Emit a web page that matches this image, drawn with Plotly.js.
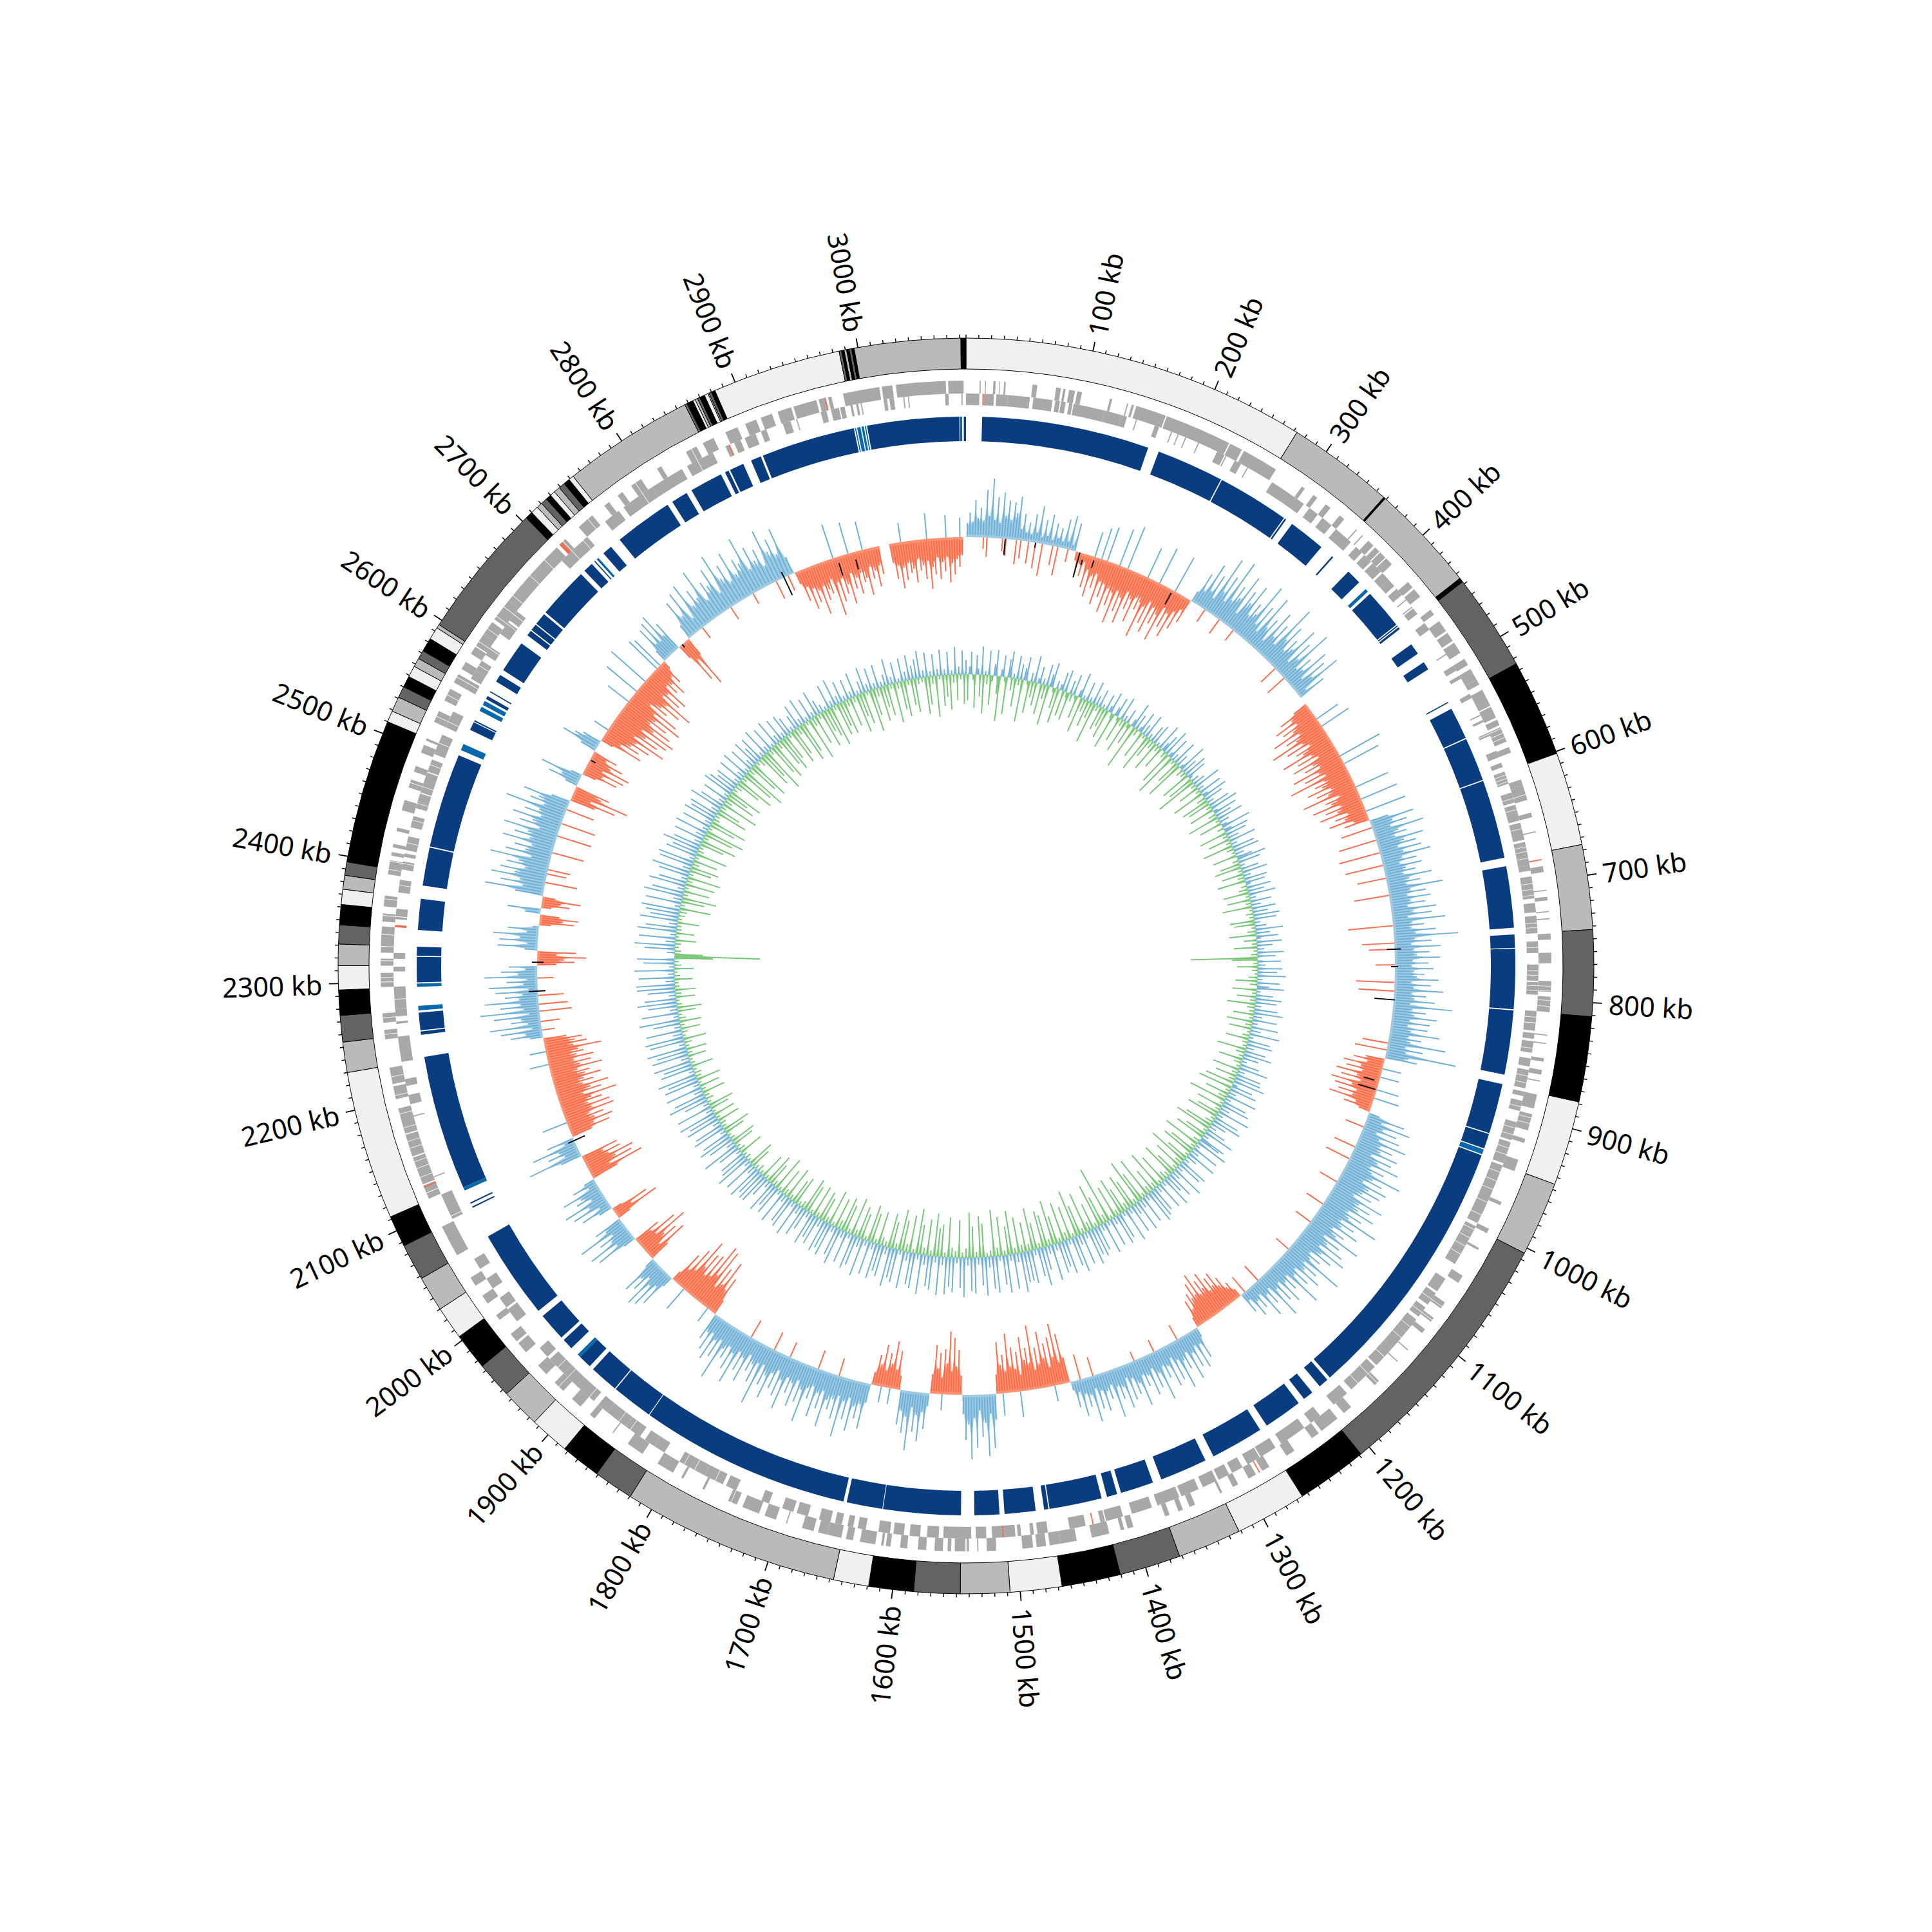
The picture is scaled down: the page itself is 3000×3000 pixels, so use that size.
<!DOCTYPE html>
<html><head><meta charset="utf-8"><script src="https://cdn.plot.ly/plotly-3.0.1.min.js"></script>
<style>html,body{margin:0;padding:0;background:#fff}</style></head><body><div id="chart" style="width:3000px;height:3000px"></div>
<script>
const genomeKb = 3085;
const tickLabelKb = [100,200,300,400,500,600,700,800,900,1000,1100,1200,1300,1400,1500,1600,1700,1800,1900,2000,2100,2200,2300,2400,2500,2600,2700,2800,2900,3000];
// outer band ring: band start positions (kb) and grey class
const bandStart = [0,272.6,357.5,359,444.5,448,524.6,601.6,675.6,742.7,811,878.5,945.6,1004.5,1208.5,1265,1321.6,1372,1420.6,1467,1508,1547,1583.6,1619,1647,1819.6,1851.3,1883,1914.6,1945.6,1974.5,2003.7,2030,2058,2087,2112,2230,2254,2275,2295,2314,2331,2346,2362,2374,2385,2395.6,2510,2519,2531,2540,2549,2558,2565,2572,2583,2593,2596,2704,2710,2716,2720.5,2725.6,2730,2734,2739,2744,2749,2753,2857,2859,2864,2866,2868,2870,2874,2877,2878,2880,2883,2985,2987,2989,2991,2993,2995,2997,3081];
const bandGrey = [0,1,3,1,3,2,3,0,1,2,3,0,1,2,3,0,1,2,3,0,1,2,3,0,1,2,3,0,1,2,3,0,1,2,3,0,1,2,3,0,1,2,3,0,1,2,3,0,1,2,3,0,1,2,3,0,1,2,3,0,1,2,3,0,1,2,3,0,1,2,3,0,1,2,3,0,1,2,3,0,2,3,1,3,2,3,1,3];
const greyColors = ['#f0f0f0','#bababa','#636363','#000000'];
// gene blocks, kb
const plusGenes = [[11.5,12.5],[16,16.8],[23,25],[28,28.7],[32,33.5],[56,60],[76,80],[82,84],[87,92],[94,98],[122,124],[137,138],[141,143],[145,171],[172,229],[230,241],[243,274],[300,303],[312,316],[325,330],[340,345],[358,359],[365,366],[372,378],[380,385],[386,392],[393,400],[420,426],[428,436],[450,455],[462,472],[474,482],[484,494],[500,506],[510,520],[520,525],[530,545],[546,556],[558,563],[565,578],[583,588],[612,618],[618,630],[641,645],[657,658],[687,692],[707,708],[713,716],[725,726],[731,732],[744,749],[760,769],[784,793],[797,810],[829,830],[836,837],[849,852],[859,863],[868,869],[880,892],[897,911],[918,922],[937,947],[975,978],[1000,1004],[1018,1020],[1045,1052],[1072,1078],[1088,1092],[1100,1104],[1122,1123],[1135,1136],[1158,1163],[1190,1198],[1205,1222],[1225,1232],[1250,1258],[1275,1282],[1288,1295],[1305,1310],[1320,1322],[1345,1350],[1356,1360],[1368,1372],[1400,1405],[1408,1411],[1421,1436],[1449,1463],[1463,1472],[1475,1483],[1486,1495],[1517,1525],[1532,1533],[1540,1542],[1543,1552],[1555,1558],[1562,1569],[1576,1583],[1592,1598],[1606,1610],[1612,1614],[1619,1632],[1638,1644],[1648,1660],[1660,1668],[1672,1682],[1695,1696],[1705,1715],[1720,1735],[1740,1748],[1770,1772],[1790,1792],[1800,1815],[1830,1845],[1860,1861],[1880,1885],[1895,1905],[1915,1925],[1935,1945],[1960,1970],[1972,1980],[1995,2000],[2012,2020],[2030,2038],[2060,2087],[2113,2125],[2126,2150],[2151,2170],[2171,2193],[2201,2212],[2214,2228],[2252,2260],[2266,2274],[2296,2308],[2314,2320],[2325,2347],[2351,2358],[2364,2373],[2391,2403],[2407,2410],[2414,2417],[2428,2431],[2446,2455],[2466,2473],[2480,2485],[2497,2504],[2508,2510],[2525,2535],[2545,2556],[2562,2570],[2575,2582],[2590,2597],[2598,2610],[2610,2622],[2625,2645],[2645,2705],[2708,2715],[2730,2745],[2758,2763],[2772,2777],[2786,2796],[2812,2816],[2840,2850],[2856,2866],[2877,2888],[2895,2905],[2909,2919],[2924,2936],[2938,2958],[2960,2966],[2968,2971],[2981,3012],[3014,3023],[3026,3068],[3070,3083]];
const minusGenes = [[0,11.5],[15,24],[26,36],[36,55],[58,74.5],[77,81],[82,86],[89,92],[93,120],[120,135],[135,140],[148,149],[165,169],[180,181],[186,187],[193,194],[205,206],[223,230],[231,232],[240,246],[252,253],[277,310],[316,325],[330,340],[345,362],[368,375],[378,386],[388,398],[400,408],[408,415],[418,425],[430,431],[438,439],[440,446],[456,463],[488,489],[500,505],[510,513],[528,532],[548,549],[553,555],[565,568],[582,588],[593,597],[601,612],[620,629],[631,645],[647,662],[664,684],[684,689],[694,713],[717,725],[728,743],[750,760],[770,784],[785,796],[810,827],[829,834],[836,846],[851,858],[861,877],[880,884],[888,897],[907,923],[925,944],[946,1000],[1003,1010],[1010,1040],[1055,1068],[1070,1082],[1085,1095],[1098,1112],[1112,1130],[1130,1150],[1152,1180],[1185,1200],[1215,1225],[1232,1256],[1262,1277],[1278,1290],[1295,1305],[1308,1318],[1320,1333],[1337,1353],[1355,1375],[1380,1398],[1406,1421],[1422,1426],[1439,1453],[1472,1481],[1484,1487],[1495,1498],[1500,1520],[1525,1534],[1538,1562],[1566,1576],[1582,1591],[1596,1605],[1608,1618],[1629,1636],[1640,1645],[1650,1656],[1660,1670],[1680,1690],[1693,1703],[1715,1722],[1745,1755],[1758,1775],[1775,1800],[1815,1825],[1825,1835],[1840,1855],[1855,1875],[1875,1885],[1890,1910],[1910,1925],[1925,1942],[1945,1955],[1985,1998],[2000,2010],[2020,2030],[2040,2050],[2089,2091.5],[2092,2112],[2128,2129],[2183,2184],[2194,2202],[2210,2216],[2231,2253],[2264,2266],[2270,2277],[2277,2296],[2309,2313],[2320,2325],[2354,2363],[2377,2388],[2397,2404],[2408,2411],[2414,2426],[2434,2444],[2451,2457],[2457,2464],[2465,2473],[2472,2483],[2484,2495],[2500,2518],[2525,2540],[2562,2570],[2572,2580],[2580,2590],[2596,2604],[2618,2630],[2632,2642],[2700,2730],[2750,2765],[2770,2800],[2800,2830],[2835,2860],[2872,2876],[2880,2886],[2890,2900],[2905,2910],[2925,2932],[2937,2938],[2959,2964],[2968,2975],[2976,2980],[2985,2987],[2990,2992],[2994,2995],[3014,3017],[3019,3023],[3031,3032],[3035,3036],[3067,3070],[3081,3082]];
const rnaMinus = [[14.2,15],[1432,1433],[1510,1511],[2347,2349],[2875,2876]];
const rnaPlus = [[681,682],[1284,1285],[2708,2711],[2965,2966],[2123,2124]];
// thin white separators inside dense gene runs
const geneGapKb = [566,570,574,604,607,610,625,635,652,668,672,678,700,705,710,734,738,755,775,779,788,792,800,805,815,820,842,866,872,893,900,905,912,918,930,936,952,960,968,980,992,1006,1014,1022,1030,1076,1090,1106,1118,1140,1160,1172,1745,1765,1785,1795,1850,1862,1895,1920,1932,2118,2132,2140,2146,2158,2164,2176,2188,2204,2220,2256,2270,2285,2300,2304,2318,2330,2340,2356,2370,2383,2395,2402,2420,2440,2455,2470,2490,2510,2530,2550,2567,2585,2602,2615,2628,2638,2650,2672,2690,2712,2725,2740,2790,2845];
// coding-density ring, kb
const denseBlocks = [[14.5,166],[176,237],[238,303],[304,305.5],[312,345.5],[358,359.5],[378,391.6],[405.7,442],[443,444],[445,447],[464,474.3],[483.6,491],[525,526],[532,561],[562,601.5],[602.5,673.7],[681.5,737],[743,755],[755.7,810],[811,869],[877.7,923],[924,937.5],[944,1187],[1190,1199],[1207.6,1217],[1223,1258],[1265,1313],[1321,1364],[1372,1402],[1405.6,1415],[1420,1467.5],[1468.5,1472.4],[1480,1508],[1512.5,1535],[1547,1617],[1617.6,1650],[1653,1844],[1844.7,1882],[1883,1909],[1913,1925],[1936,1946],[1949,1974.6],[1980.5,2061],[2090,2091.2],[2094,2095.2],[2110,2232],[2252,2255],[2256,2272],[2299,2322],[2323,2331],[2346,2374],[2386,2420.5],[2421.5,2507],[2532,2539.5],[2540.3,2541.5],[2563,2566],[2570,2571],[2581,2588],[2593,2622],[2631,2636],[2637,2643],[2644,2655],[2657,2703.7],[2708,2717],[2720,2721],[2731,2740],[2750,2803],[2808,2823],[2828,2858],[2862,2865.5],[2867,2880],[2887.6,2897],[2899,2984],[2996,3079],[3083,3085]];
const midBlocks = [[400,403],[938.5,943],[1925,1928],[2107,2110],[2274,2278],[2295,2298],[2512,2518],[2551,2555],[2557,2561],[2723,2725],[2985,2986],[2987,2990],[2991,2993],[2994,2995],[3079.5,3081.5]];
// GC skew: regions and their heights from the baseline
const skewFrom = [0,127,271,448,601,878,942,1201,1263,1422,1508,1547,1584,1618,1652,1849,1913,1945,1975,2005,2019,2059,2088,2112,2231,2314,2331,2360,2373,2380,2394,2508,2526,2541,2571,2585,2702,2725,2740,2883,2996];
const skewTo = [127,271,440,601,878,942,1201,1263,1422,1508,1547,1584,1618,1652,1849,1913,1945,1975,2005,2019,2059,2088,2112,2231,2314,2331,2360,2373,2380,2394,2508,2526,2541,2571,2585,2702,2725,2740,2883,2985,3082];
const skewSign = [1,-1,1,-1,1,-1,1,-1,1,-1,1,-1,1,-1,1,-1,1,-1,1,-1,1,-1,1,-1,1,-1,1,-1,1,-1,1,-1,1,-1,1,-1,1,-1,1,-1,-1];
const skewHeights = [
[22,38,24,58,30,46,26,74,34,92,28,64,24,72,36,60,30,58,42,68,18,42,14,30,12,44,16,58,10,38,14,48,9,36,14,30,10,46,12,54,8,44],
[14,28,18,36,12,52,22,64,30,48,24,72,34,58,36,80,40,66,44,92,38,70,46,86,34,60,42,78,36,54,40,96,44,70,32,82,38,64,46,88,30,62,36,74,28,56,20,40],
[18,52,24,74,30,60,22,96,40,70,28,102,36,64,46,88,24,68,50,84,34,58,42,98,30,66,22,90,38,56,18,76,34,60,26,100,44,72,30,54,40,82,22,64,36,92,24,50,30,72,20,62,34,80,14,46],
[24,52,34,66,30,58,42,80,36,62,46,92,40,70,32,58,48,86,38,64,30,76,44,60,36,84,42,68,34,96,40,58,48,74,36,62,44,88,30,54,46,78,34,60,42,72,28,50,36,62,24,40],
[30,70,34,56,28,80,38,50,30,74,42,60,30,66,36,78,32,54,26,60,34,48,28,72,36,52,30,86,34,58,28,64,32,54,26,70,34,62,24,82,30,48,28,66,34,100,32,58,26,72,30,54,34,70,28,52,26,60,30,46,34,68,26,56,30,76,28,50,32,64,26,92,30,52,34,70,28,60,26,58,32,78,30,50,34,90,28,56,30,110,36,50],
[30,48,26,62,34,56,30,70,36,60,28,74,40,66,30,58,34,70,26,44,18],
[18,60,24,72,30,54,22,62,30,76,36,58,40,70,28,64,44,80,36,60,42,92,48,66,36,78,50,72,44,62,34,86,48,70,52,82,40,66,46,98,38,64,44,76,34,58,46,90,30,62,42,74,34,84,44,66,30,52,36,96,32,60,40,72,28,58,34,86,26,50,32,66,24,56,30,78,20,46,26,62,18,40,24,48,14,34],
[14,30,24,46,34,60,40,56,36,70,46,62,40,78,44,66,42,52,28,44,16],
[16,50,24,62,22,56,30,72,24,50,34,78,28,60,20,66,30,48,26,80,34,56,22,64,30,46,26,74,36,52,24,58,20,68,32,50,28,76,22,44,30,60,26,54,20,72,28,46,24,58,18,42,14],
[40,78,34,96,44,76,30,68,46,88,38,64,30,100,42,66,48,84,26,62,36,70,40,92,34,60,44,80,30],
[40,84,30,96,44,66,24,82,36,100,46,70,30],
[30,70,44,88,36,98,48,70,26,64,40,76,30],
[20,56,30,76,36,62,24,92,40,66,32,54],
[22,60,30,74,38,54,26,66,34,48,20],
[30,72,34,58,40,80,28,64,36,94,30,68,38,56,42,86,30,60,36,76,28,50,34,90,40,62,28,72,36,54,30,84,38,66,26,58,34,78,42,60,28,96,30,64,36,50,24,72,34,58,28,84,36,66,30,52,38,92,28,60,34,70,26,58,30,44],
[24,62,40,86,44,70,34,96,50,100,42,78,38,74,48,92,34,70,28,54,16],
[18,58,26,68,32,74,24,52,34,62,16],
[34,70,24,60,40,84,30,70,28,44],
[20,66,28,74,32,50,24,80,30,46],
[22,74,30,60,16],
[22,50,16,60,30,70,20,44,34,62,14,40,18],
[44,88,34,74,48,80,40,62,34,60],
[34,86,24,50,30,72,16,44],
[34,64,40,72,44,60,38,80,46,76,42,66,50,92,40,70,54,84,44,62,48,76,52,60,42,82,48,66,40,72,46,58,50,88,44,66,48,60,36],
[20,50,26,64,14,80,20,46,30,72,16,92,24,60,28,84,30,52,24,66,14,76,22,48,16,82,30,56,18,44],
[30,58,42,76,30,60],
[20,62,16,60,28,70,18,48,10],
[18,54,36,60,30],
[24,52],
[16,44,30,60,20],
[44,92,34,70,40,86,50,74,36,66,48,94,30,72,42,60,34,82,40,66,46,86,30,64,44,78,34,62,40,96,36,60,48,74,30],
[40,72,30,90,44,56],
[20,50,30,66,18],
[22,56,30,64,26,70,36,54,24,40],
[26,60,42,30],
[20,68,30,60,44,74,48,96,40,80,56,92,44,100,60,88,48,76,52,96,44,84,30,60,46,78,50,94,36,66,40,72,30,48,34,56,26,40,14],
[20,60,28,66,26,72,30,50],
[24,70,34,84,30],
[24,64,34,72,20,78,36,60,42,86,30,58,48,74,28,90,46,66,34,80,40,62,52,92,36,70,44,60,30,86,48,66,38,78,28],
[20,50,28,66,34,58,40,80,36,60,44,52,30,90,38,70,34,60,46,78,30,56,40,66,34,50,44,72,28,48,36,62,30,44],
[30,56,36,72,40,60,34,50,44,66,30,48,40,62,34,78,44,56,30,64,38,52,30,70,40,58,34,46,28]];
// opposite-direction spikes within the skew track
const redSpikeKb = [20,24,42,46,58,63,72,80,88,100,106,118,290,310,330,395,410,610,625,640,655,670,690,725,745,752,770,790,800,860,868,960,985,1000,1030,1060,1085,1125,1175,1195,1290,1320,1345,1395,1410,1690,1715,1750,1770,1800,2240,2250,2262,2270,2280,2300,2410,2420,2425,2445,2465,2480,2497,2760,2800,2830,2860,2875];
const redSpikeLen = [18,30,20,26,38,28,34,40,50,30,45,20,22,26,20,30,34,50,60,65,60,45,55,70,50,40,30,60,55,40,50,30,35,40,30,30,28,25,30,30,25,20,15,30,40,28,30,25,30,30,20,30,50,45,40,25,50,30,35,50,55,55,45,20,22,18,30,25];
const blueSpikeKb = [150,158,165,180,190,215,230,250,470,480,520,530,560,575,590,890,900,915,925,1440,1480,1500,1570,1630,1640,1860,1895,2130,2200,2215,2600,2640,2655,2670,2690,2695,2930,2948,2965,3010,3040,3062,3078];
const blueSpikeLen = [40,50,55,60,70,50,60,60,40,50,70,60,55,60,65,30,30,35,40,25,40,35,25,25,25,25,40,40,30,25,25,40,60,70,60,55,55,50,45,30,40,35,30];
const blackMarkKb = [45,80,132,137,150,247,752,772,810,905,915,2318,2285,2108,2560,2730,2870,2935,2955];
const blackMarkIn = [25,8,40,10,18,25,12,6,30,25,30,10,12,18,10,6,30,30,28];
const blackMarkOut = [0,0,0,-18,-6,-5,10,5,2,-8,-2,8,14,10,-2,0,10,-10,-12];
// GC content, one value per three kb
const gcValues = [
22,-40,12,35,-8,-52,30,9,-34,44,-60,6,-14,38,-46,-9,18,40,-28,-70,11,33,-7,-58,28,41,-20,7,-44,36,-10,24,-66,19,37,-6,-50,14,-24,42,
-36,8,27,-48,10,-22,34,-62,20,39,-7,-32,13,-54,9,29,-40,35,-8,-44,21,-12,33,-5,-36,11,40,-56,6,-20,30,-42,8,-26,36,-64,15,-9,28,-38,
7,-30,26,-46,10,34,-8,-58,14,31,-6,-40,37,-11,9,-52,23,-7,-34,12,41,-72,25,-10,8,35,-44,17,-6,38,-60,9,-32,27,-12,33,-48,6,-9,42,
-36,15,30,-10,44,-54,8,36,-70,12,-6,40,-38,20,-62,7,46,-12,25,-9,38,-48,32,6,-42,13,-66,20,-8,43,-34,10,-7,37,-52,9,41,-14,30,-44,
11,-36,34,-8,45,-40,7,38,-12,26,-50,42,-6,16,-36,9,47,-10,13,39,-44,33,-8,18,-34,43,-7,10,-48,36,-11,41,-5,14,-38,25,46,-9,35,-32,
8,-42,28,-6,40,-34,12,-10,36,-44,31,7,-9,38,-14,26,-40,42,-6,10,-36,33,-8,15,-46,37,-5,24,-11,41,-7,35,-38,9,-32,18,-6,43,-13,22,
-42,34,7,-20,39,-8,24,-36,11,-6,41,-10,28,-104,-40,36,-7,12,-32,38,-9,30,-5,44,-14,8,-34,35,-11,19,42,-38,6,-7,26,-30,40,-9,33,-44,
10,-12,36,-8,45,-32,14,-6,38,-40,9,-10,42,-34,16,-5,47,-11,7,-36,35,-9,40,-6,13,-46,33,-14,44,-7,25,-38,8,-12,30,-6,46,-42,11,-9,
39,-34,41,-10,50,-46,8,34,-54,43,-7,12,-38,48,-14,9,-60,37,-6,45,-42,15,-8,52,-36,10,-50,40,-7,47,-13,25,-44,12,-58,31,-6,49,-34,9,
-48,42,35,-11,51,-60,7,-8,44,-42,13,-52,48,-6,18,-36,9,-64,46,-12,40,-46,10,-7,53,-34,15,-56,43,-9,29,-14,50,-48,8,-6,45,-62,11,-10,
41,-38,47,-12,52,-66,9,-7,44,-48,14,-72,50,-8,18,-44,46,-56,10,-11,54,-40,7,-60,42,-9,49,-52,12,-6,45,-90,8,-13,51,-46,11,-68,40,-7,
48,-42,43,-14,56,-64,10,-8,50,-48,16,-74,58,-6,46,-52,9,-12,54,-62,41,-7,49,-44,11,-70,57,-10,13,-50,37,-58,60,-8,44,-42,9,-66,52,-11,
47,-46,48,-12,62,-56,14,-9,55,-68,10,-44,59,-7,46,-60,8,-13,57,-72,50,-10,17,-6,60,-52,44,-64,11,-9,56,-48,52,-70,12,-14,61,-8,47,-58,
9,-10,54,-15,46,-62,58,-7,13,-50,60,-44,10,-66,53,-8,48,-56,16,-11,62,-46,9,-70,55,-6,50,-58,14,-12,59,-48,7,-64,52,-9,46,-42,61,-54,
12,-8,49,-13,42,-52,56,-7,11,-46,53,-58,9,-6,60,-40,15,-50,47,-10,55,-60,8,-7,50,-44,12,-54,58,-14,45,-48,10,-6,52,-56,43,-9,51,-38,
13,-46,46,-8,38,-50,52,-6,10,-44,34,-54,48,-11,14,-7,55,-46,9,-38,50,-8,44,-52,12,-10,53,-42,7,-6,47,-56,37,-9,51,-36,11,-48,32,-7,
49,-40,50,-6,44,-12,56,-7,14,-32,52,-42,10,-5,58,-9,46,-6,42,-38,8,-11,36,-7,60,-34,13,-40,41,-8,55,-5,45,-32,9,-44,53,-7,47,-10,
12,-36,54,-6,46,-34,60,-5,11,-30,57,-40,9,-6,38,-12,62,-8,50,-36,14,-7,58,-32,10,-5,55,-38,47,-9,61,-11,8,-6,52,-34,45,-7,59,-5,
13,-28,58,-8,48,-32,62,-6,9,-12,54,-36,60,-5,15,-9,56,-30,10,-7,42,-34,63,-11,8,-6,57,-28,12,-38,45,-8,61,-5,49,-30,11,-9,43,-32,
59,-7,60,-6,14,-28,56,-9,10,-5,62,-30,8,-11,48,-7,58,-60,-133,-44,12,-10,47,-6,63,-9,15,-32,57,-5,9,-28,61,-8,49,-7,13,-34,59,-6,
44,-10,52,-12,60,-48,9,-7,56,-36,14,-54,62,-8,50,-40,11,-6,58,-46,44,-9,10,-52,48,-7,61,-34,13,-44,53,-11,57,-38,8,-6,49,-50,41,-10,
59,-7,44,-38,12,-56,48,-8,15,-46,52,-62,9,-6,46,-42,11,-58,50,-10,42,-7,47,-50,13,-36,53,-9,39,-60,10,-12,41,-48,8,-34,49,-54,43,-7,
33,-11,38,-40,9,-60,42,-8,12,-52,45,-70,7,-10,40,-48,14,-64,44,-6,28,-12,41,-56,8,-44,46,-72,10,-9,39,-50,6,-62,43,-11,13,-46,37,-58,
9,-42,36,-7,28,-56,8,-44,24,-12,38,-62,11,-50,42,-6,7,-68,35,-14,9,-48,41,-8,23,-58,12,-36,6,-46,39,-64,10,-7,43,-52,13,-40,34,-54,
8,-11,32,-46,10,-9,38,-60,7,-36,20,-50,40,-6,12,-66,35,-42,9,-13,37,-54,8,-34,18,-48,41,-7,11,-62,33,-10,6,-44,36,-56,14,-8,39,-40,
21,-52,30,-9,42,-7,11,-58,38,-44,8,-12,34,-64,10,-6,40,-48,9,-34,36,-54,7,-13,43,-40,12,-8,37,-46
];
const C = {r:975, ri:927, plusIn:889, plusOut:909, minusIn:871, minusOut:889, denseIn:815, denseOut:853, skew:666, gc:453};
const ang = kb => kb*360/genomeKb;
function ringTrace(pairs, inner, outer, color){
  return {type:'barpolar', theta:pairs.map(p=>ang((p[0]+p[1])/2)), width:pairs.map(p=>ang(p[1]-p[0])),
    r:pairs.map(()=>outer-inner), base:pairs.map(()=>inner), marker:{color:color, line:{width:0}}, hoverinfo:'skip'};
}
const traces = [];
const bandPairs = bandStart.map((s,i)=>[s, i+1<bandStart.length?bandStart[i+1]:genomeKb]);
traces.push({type:'barpolar', theta:bandPairs.map(p=>ang((p[0]+p[1])/2)), width:bandPairs.map(p=>ang(p[1]-p[0])),
  r:bandPairs.map(()=>C.r-C.ri), base:bandPairs.map(()=>C.ri),
  marker:{color:bandGrey.map(g=>greyColors[g]), line:{color:'#000', width:1}}, hoverinfo:'skip'});
traces.push(ringTrace(plusGenes,C.plusIn,C.plusOut,'#a8a8a8'));
traces.push(ringTrace(minusGenes,C.minusIn,C.minusOut,'#a8a8a8'));
traces.push(ringTrace(geneGapKb.map(k=>[k,k+0.45]),C.minusIn,C.plusOut,'#ffffff'));
traces.push(ringTrace(rnaPlus,C.plusIn,C.plusOut,'#fb6a4a'));
traces.push(ringTrace(rnaMinus,C.minusIn,C.minusOut,'#fb6a4a'));
traces.push(ringTrace(denseBlocks,C.denseIn,C.denseOut,'#0a3d80'));
traces.push(ringTrace(midBlocks,C.denseIn,C.denseOut,'#0868ac'));
// ticks
const tickTheta=[],tickR=[],majorTheta=[],majorR=[];
for(let k=0;k<genomeKb;k+=10){
  if(k%100===0&&k>0){majorTheta.push(ang(k),ang(k),null);majorR.push(C.r,C.r+14.5,null);}
  else{tickTheta.push(ang(k),ang(k),null);tickR.push(C.r,C.r+5.5,null);}
}
traces.push({type:'scatterpolar',mode:'lines',theta:tickTheta,r:tickR,line:{color:'#000',width:1.4},hoverinfo:'skip'});
traces.push({type:'scatterpolar',mode:'lines',theta:majorTheta,r:majorR,line:{color:'#000',width:1.8},hoverinfo:'skip'});
function fillTrace(t,r,c){return {type:'scatterpolar',mode:'lines',theta:t,r:r,fill:'toself',fillcolor:c,line:{width:0,color:c},hoverinfo:'skip'};}
function spikeTrace(kbs,fromFn,toFn,color,w){
  const t=[],r=[];
  kbs.forEach((k,i)=>{t.push(ang(k),ang(k),null);r.push(fromFn(i),toFn(i),null);});
  return {type:'scatterpolar',mode:'lines',theta:t,r:r,line:{color:color,width:w},hoverinfo:'skip'};
}
// skew: light wedges under the values, one needle per value
function skewTraces(sign, fillC, lineC){
  const ft=[],fr=[],sk=[],sv=[];
  skewHeights.forEach((h,i)=>{
    if(skewSign[i]!==sign) return;
    const a=skewFrom[i], b=skewTo[i], n=h.length;
    ft.push(ang(a)); fr.push(C.skew);
    h.forEach((v,j)=>{
      const k=a+(b-a)*(j+0.5)/n;
      ft.push(ang(k)); fr.push(C.skew+sign*v*0.72);
      sk.push(k); sv.push(v);
    });
    const steps=Math.max(2,Math.ceil((b-a)/6));
    ft.push(ang(b)); fr.push(C.skew);
    for(let s=steps-1;s>=0;s--){ft.push(ang(a+(b-a)*s/steps)); fr.push(C.skew);}
    ft.push(null); fr.push(null);
  });
  return [fillTrace(ft,fr,fillC), spikeTrace(sk,()=>C.skew+sign*4,i=>C.skew+sign*sv[i],lineC,1.9)];
}
traces.push(...skewTraces(1,'#9ecae1','#6baed6'));
traces.push(...skewTraces(-1,'#fc9272','#fb6a4a'));
traces.push(spikeTrace(redSpikeKb,()=>C.skew,i=>C.skew-redSpikeLen[i],'#fb6a4a',1.9));
traces.push(spikeTrace(blueSpikeKb,()=>C.skew,i=>C.skew+blueSpikeLen[i],'#6baed6',1.9));
traces.push(spikeTrace(blackMarkKb,i=>C.skew-blackMarkIn[i],i=>C.skew+blackMarkOut[i],'#000',1.9));
// GC content: light wedges plus needles
function gcTraces(sign, fillC, lineC){
  const st=genomeKb/gcValues.length, ft=[],fr=[],sk=[],sv=[];
  gcValues.forEach((v,i)=>{
    ft.push(ang(i*st)); fr.push(C.gc+sign*Math.max(sign*v,0)*0.5);
    if(sign*v>0){sk.push(i*st); sv.push(v);}
  });
  ft.push(360); fr.push(fr[0]);
  for(let i=gcValues.length;i>=0;i-=3){ft.push(ang(i*st)); fr.push(C.gc);}
  return [fillTrace(ft,fr,fillC), spikeTrace(sk,()=>C.gc,i=>C.gc+sv[i],lineC,1.9)];
}
traces.push(...gcTraces(1,'#9ecae1','#6baed6'));
traces.push(...gcTraces(-1,'#a1d99b','#74c476'));
// rotated radial labels
const annotations = tickLabelKb.map(k=>{
  const th=ang(k), rad=th*Math.PI/180, txt=k+' kb', mid=1000+(k>=1000?78:65);
  return {xref:'paper',yref:'paper',x:0.5+mid*Math.sin(rad)/3000,y:0.5+mid*Math.cos(rad)/3000,text:txt,showarrow:false,
    xanchor:'center',yanchor:'middle',textangle:th<180?th-90:th+90,font:{family:'"Noto Sans", Lato, sans-serif',size:42,color:'#000'}};
});
Plotly.newPlot('chart',traces,{width:3000,height:3000,margin:{l:0,r:0,t:0,b:0},paper_bgcolor:'#fff',showlegend:false,annotations:annotations,
  polar:{domain:{x:[0,1],y:[0,1]},bgcolor:'#fff',barmode:'overlay',
    radialaxis:{visible:false,range:[0,1500]},
    angularaxis:{visible:false,direction:'clockwise',rotation:90,thetaunit:'degrees'}}},{displayModeBar:false,staticPlot:true});
</script></body></html>
